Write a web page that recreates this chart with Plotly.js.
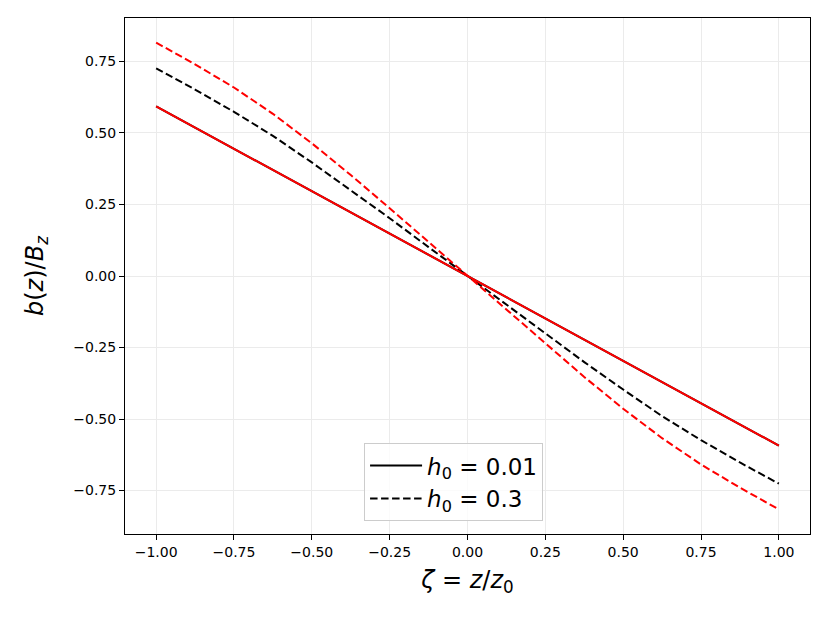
<!DOCTYPE html>
<html>
<head>
<meta charset="utf-8">
<script src="https://cdn.plot.ly/plotly-3.0.1.min.js"></script>
<style>body{margin:0;background:#fff;}#plot{width:830px;height:623px;}</style>
</head>
<body>
<div id="plot"></div>
<script>
// zeta values and b(z)/Bz
var zeta = [-1.0, -0.875, -0.75, -0.625, -0.5, -0.375, -0.25, -0.125, 0.0,
            0.125, 0.25, 0.375, 0.5, 0.625, 0.75, 0.875, 1.0];
var bSmallH = [0.593, 0.519, 0.444, 0.370, 0.296, 0.222, 0.148, 0.074, 0.0,
               -0.074, -0.148, -0.222, -0.296, -0.370, -0.444, -0.519, -0.593];
var bBigHBlack = [0.726, 0.652, 0.574, 0.490, 0.397, 0.301, 0.202, 0.101, 0.0,
                  -0.101, -0.202, -0.301, -0.397, -0.490, -0.574, -0.652, -0.726];
var bBigHRed = [0.816, 0.740, 0.659, 0.567, 0.464, 0.353, 0.237, 0.119, 0.0,
                -0.119, -0.237, -0.353, -0.464, -0.567, -0.659, -0.740, -0.816];

var xTicks = [-1.0, -0.75, -0.5, -0.25, 0.0, 0.25, 0.5, 0.75, 1.0];
var xTickText = ['\u22121.00', '\u22120.75', '\u22120.50', '\u22120.25', '0.00', '0.25', '0.50', '0.75', '1.00'];
var yTicks = [-0.75, -0.5, -0.25, 0.0, 0.25, 0.5, 0.75];
var yTickText = ['\u22120.75', '\u22120.50', '\u22120.25', '0.00', '0.25', '0.50', '0.75'];

var dashPat = '7.5px,3.5px';

var traces = [
    {x: zeta, y: bSmallH, mode: 'lines', name: '<i>h</i><sub>0</sub> = 0.01',
     line: {color: 'black', width: 2}},
    {x: zeta, y: bBigHBlack, mode: 'lines', name: '<i>h</i><sub>0</sub> = 0.3',
     line: {color: 'black', width: 2, dash: dashPat}},
    {x: zeta, y: bSmallH, mode: 'lines', showlegend: false,
     line: {color: 'red', width: 2}},
    {x: zeta, y: bBigHRed, mode: 'lines', showlegend: false,
     line: {color: 'red', width: 2, dash: dashPat}}
];

var axisBase = {
    showline: true, linecolor: 'black', linewidth: 1, mirror: true,
    ticks: 'outside', ticklen: 5, tickwidth: 1, tickcolor: 'black',
    showgrid: true, gridcolor: '#ebebeb', gridwidth: 1, zeroline: false,
    tickfont: {family: 'DejaVu Sans', size: 14, color: 'black'}
};

var layout = {
    width: 830, height: 623,
    margin: {l: 125, r: 20, t: 18, b: 89},
    paper_bgcolor: 'white', plot_bgcolor: 'white',
    font: {family: 'DejaVu Sans', color: 'black'},
    showlegend: true,
    legend: {
        x: 0.349, y: 0.025, xanchor: 'left', yanchor: 'bottom',
        bordercolor: '#cccccc', borderwidth: 1, bgcolor: 'rgba(255,255,255,0.8)',
        font: {family: 'DejaVu Sans', size: 23, color: 'black'},
        itemwidth: 52, tracegroupgap: 6
    },
    xaxis: Object.assign({}, axisBase, {
        range: [-1.1, 1.1], tickvals: xTicks, ticktext: xTickText,
        title: {text: '<i>\u03b6</i> = <i>z</i>/<i>z</i><sub>0</sub>', font: {family: 'DejaVu Sans', size: 24}, standoff: 12}
    }),
    yaxis: Object.assign({}, axisBase, {
        range: [-0.902, 0.902], tickvals: yTicks, ticktext: yTickText,
        title: {text: '<i>b</i>(<i>z</i>)/<i>B</i><sub><i>z</i></sub>', font: {family: 'DejaVu Sans', size: 24}, standoff: 22}
    })
};

Plotly.newPlot('plot', traces, layout, {displayModeBar: false, staticPlot: true});
</script>
</body>
</html>
